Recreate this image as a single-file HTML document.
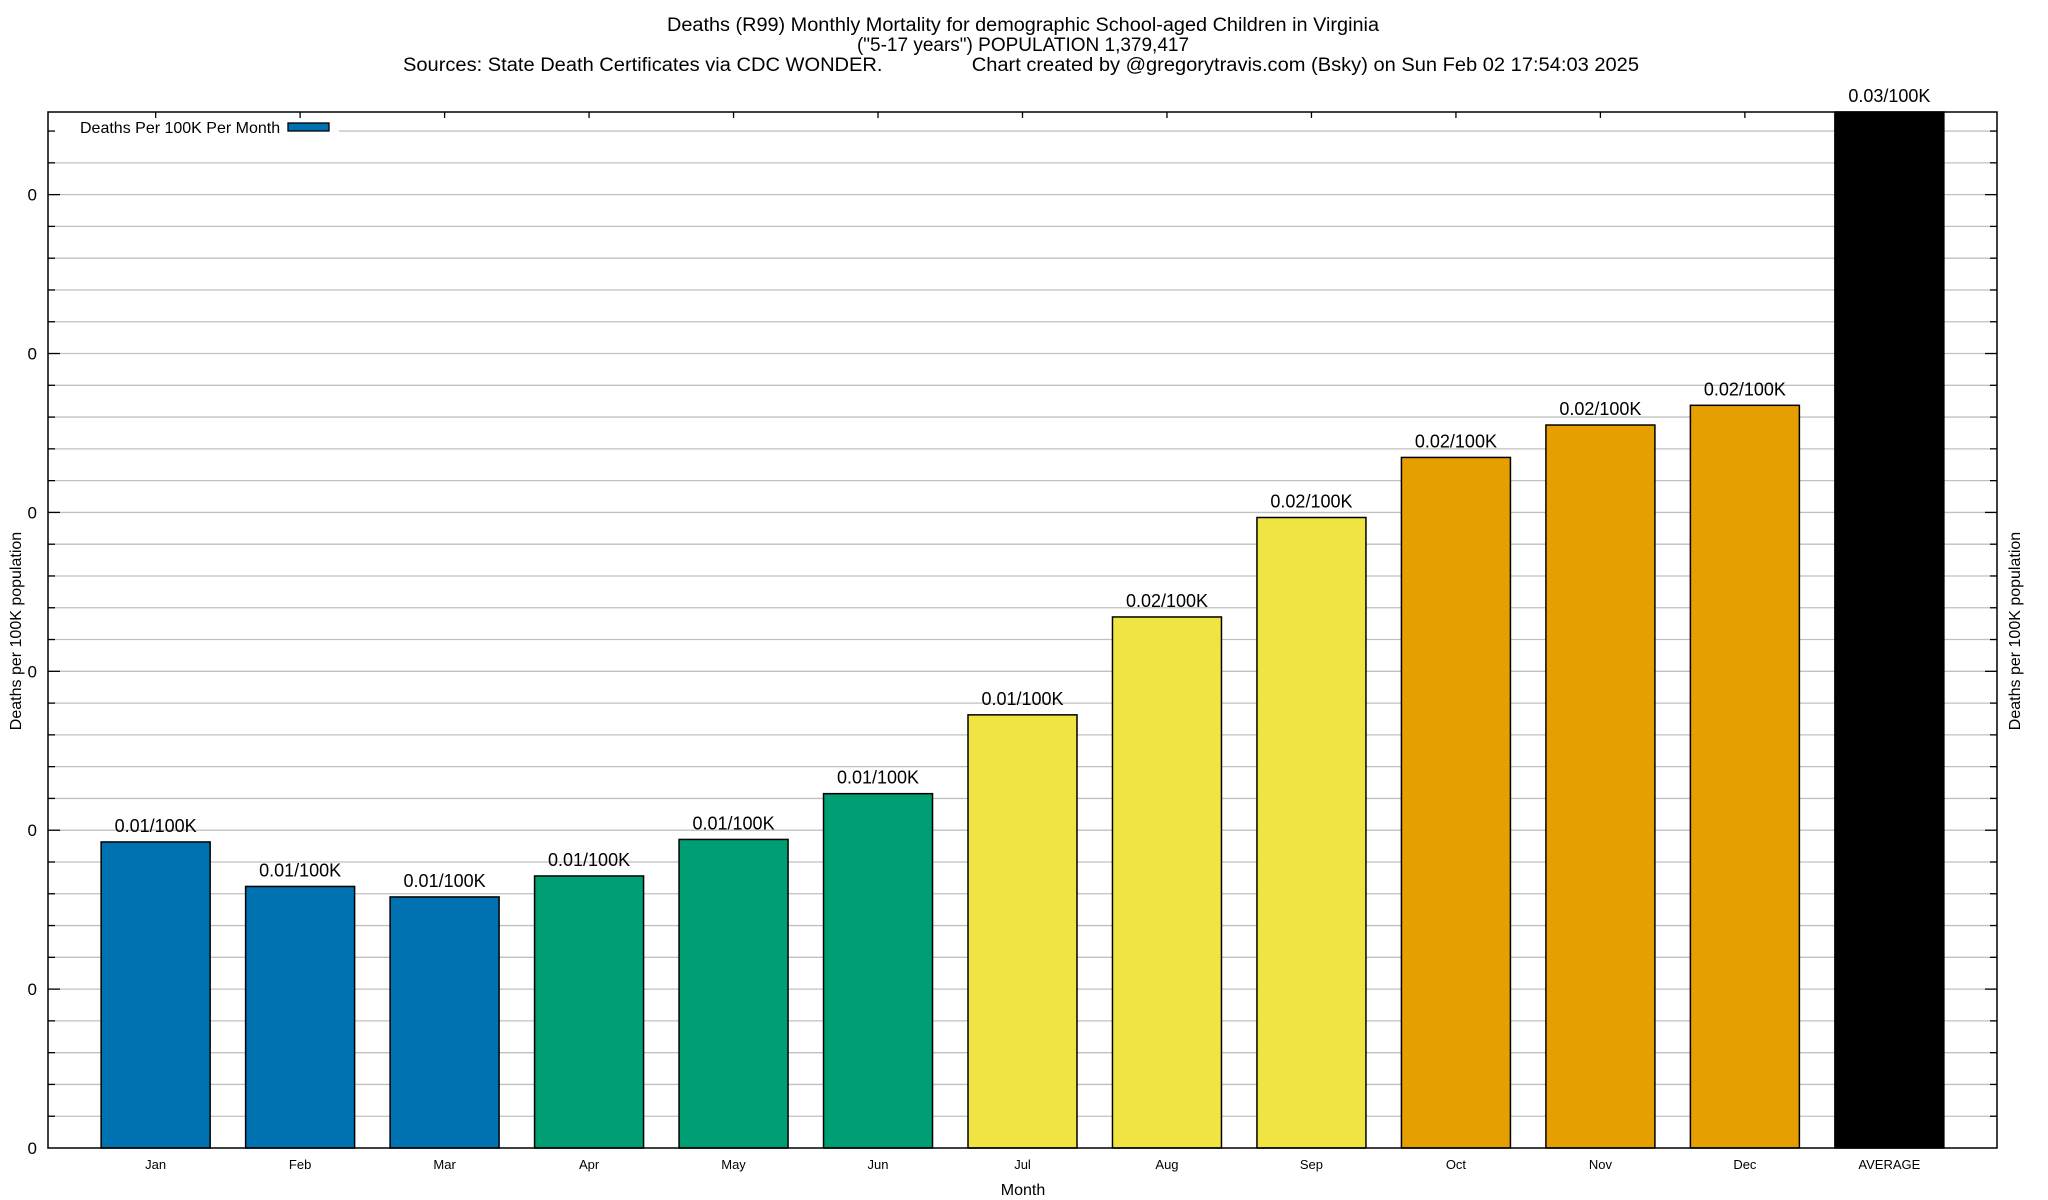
<!DOCTYPE html>
<html><head><meta charset="utf-8"><style>
html,body{margin:0;padding:0;background:#fff;}
svg{display:block;font-family:"Liberation Sans",Arial,sans-serif;}
</style></head><body>
<svg id="chart" width="2048" height="1200" viewBox="0 0 2048 1200" xmlns="http://www.w3.org/2000/svg">
<rect x="0" y="0" width="2048" height="1200" fill="#fff"/>
<g font-size="19" text-anchor="middle" fill="#000">
<text x="1023" y="31" textLength="712" lengthAdjust="spacingAndGlyphs">Deaths (R99) Monthly Mortality for demographic School-aged Children in Virginia</text>
<text x="1023" y="51">("5-17 years") POPULATION 1,379,417</text>
<text x="1021" y="71" textLength="1236" lengthAdjust="spacingAndGlyphs" style="white-space:pre">Sources: State Death Certificates via CDC WONDER.                Chart created by @gregorytravis.com (Bsky) on Sun Feb 02 17:54:03 2025</text>
</g>
<g id="grid"></g>
<g id="bars"></g>
<g id="axes"></g>
<text x="1023" y="1195" font-size="16" text-anchor="middle">Month</text>
<text transform="translate(21,631) rotate(-90)" font-size="16" text-anchor="middle">Deaths per 100K population</text>
<text transform="translate(2020,631) rotate(-90)" font-size="16" text-anchor="middle">Deaths per 100K population</text>
</svg>
<script>
const categories = ["Jan","Feb","Mar","Apr","May","Jun","Jul","Aug","Sep","Oct","Nov","Dec","AVERAGE"];
const values = [0.00963,0.00823,0.0079,0.00856,0.00971,0.01115,0.01363,0.01671,0.01984,0.02173,0.02275,0.02337,0.033];
const valueLabels = ["0.01/100K","0.01/100K","0.01/100K","0.01/100K","0.01/100K","0.01/100K","0.01/100K","0.02/100K","0.02/100K","0.02/100K","0.02/100K","0.02/100K","0.03/100K"];
const barColors = ["#0072b2","#0072b2","#0072b2","#009e73","#009e73","#009e73","#f0e442","#f0e442","#f0e442","#e69f00","#e69f00","#e69f00","#000000"];
const yTickValues = [0,0.005,0.01,0.015,0.02,0.025,0.03];
const yTickLabels = ["0","0","0","0","0","0","0"];

const NS="http://www.w3.org/2000/svg";
const L=48,R=1997,T=112,B=1148;
const xMin=-0.745,xMax=12.745,yMax=0.0326;
const xs=v=>L+(v-xMin)/(xMax-xMin)*(R-L);
const ys=v=>B-Math.min(v,yMax)/yMax*(B-T);
function mk(tag,attrs,parent){const e=document.createElementNS(NS,tag);for(const k in attrs)e.setAttribute(k,attrs[k]);parent.appendChild(e);return e;}
const grid=document.getElementById('grid'),bars=document.getElementById('bars'),axes=document.getElementById('axes');

// minor gridlines every 0.001
for(let i=1;i*0.001<yMax;i++){
  const y=ys(i*0.001);
  const x0=(y<142)?339:L;
  const g=mk('line',{x1:x0,x2:R,y1:y,y2:y,stroke:'#c0c0c0','stroke-width':1.3},grid);
  
  
  const major=Math.abs((i*0.001)/0.005-Math.round((i*0.001)/0.005))<1e-6;
  const len=major?12:7;
  mk('line',{x1:L,x2:L+len,y1:y,y2:y,stroke:'#000','stroke-width':1.3},axes);
  mk('line',{x1:R-len,x2:R,y1:y,y2:y,stroke:'#000','stroke-width':1.3},axes);
}
// y tick labels
yTickValues.forEach((v,i)=>{
  const t=mk('text',{x:37,y:ys(v)+6,'font-size':17,'text-anchor':'end'},axes);
  t.textContent=yTickLabels[i];
  
  
});
// bars
const bw=109;
categories.forEach((c,i)=>{
  const cx=xs(i),top=ys(values[i]);
  const r=mk('rect',{x:cx-bw/2,y:top,width:bw,height:B-top,fill:barColors[i],stroke:'#000','stroke-width':1.5},bars);
  
  
  const lbl=mk('text',{x:cx,y:top-10,'font-size':18,'text-anchor':'middle'},bars);
  lbl.textContent=valueLabels[i];
  
  
  const xl=mk('text',{x:cx,y:1169,'font-size':13,'text-anchor':'middle'},axes);
  xl.textContent=c;
  
  
  mk('line',{x1:cx,x2:cx,y1:T,y2:T+6,stroke:'#000','stroke-width':1.3},axes);
});
// frame
const fr=mk('rect',{x:L,y:T,width:R-L,height:B-T,fill:'none',stroke:'#000','stroke-width':1.5},axes);


// legend
const lg=mk('g',{},axes);


const lt=mk('text',{x:80,y:133,'font-size':16},lg);
lt.textContent='Deaths Per 100K Per Month';


const lb=mk('rect',{x:288,y:123,width:41,height:8,fill:'#0072b2',stroke:'#000','stroke-width':1.3},lg);


</script>
</body></html>
